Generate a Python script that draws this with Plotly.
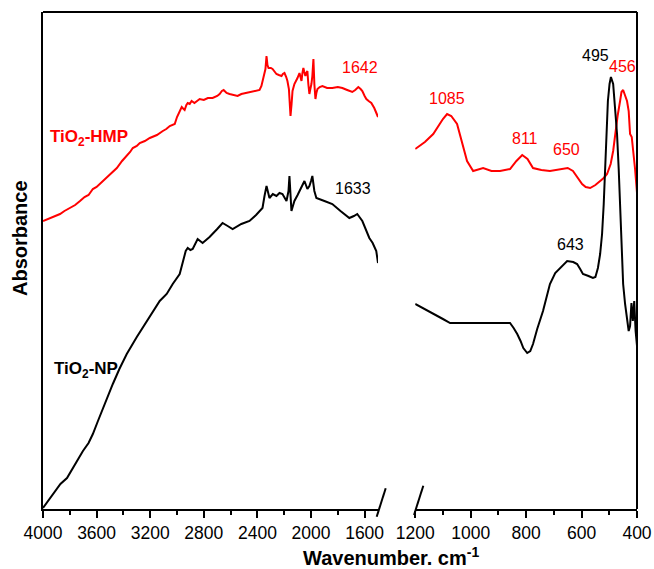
import plotly.graph_objects as go

# ---- FTIR spectra (absorbance, arbitrary units) ----
# High-wavenumber region, 4000-1500 cm-1
wn_hi_hmp = [4000, 3960, 3920, 3873, 3840, 3800, 3760, 3724, 3690, 3660, 3628, 3600, 3576, 3540,
             3501, 3470, 3449, 3410, 3375, 3350, 3330, 3300, 3278, 3240, 3203, 3150, 3106, 3080,
             3054, 3030, 3017, 3000, 2980, 2965, 2958, 2943, 2930, 2920, 2905, 2891, 2870, 2853,
             2831, 2800, 2770, 2734, 2700, 2682, 2665, 2652, 2630, 2608, 2580, 2548, 2520, 2481,
             2440, 2410, 2384, 2370, 2362, 2347, 2340, 2332, 2325, 2317, 2300, 2287, 2270, 2258,
             2240, 2220, 2210, 2198, 2185, 2176, 2165, 2153, 2145, 2138, 2124, 2110, 2101, 2086,
             2078, 2071, 2064, 2057, 2050, 2042, 2035, 2027, 2020, 2012, 2005, 1997, 1990, 1982,
             1975, 1967, 1960, 1952, 1935, 1915, 1880, 1841, 1800, 1766, 1730, 1692, 1670, 1647,
             1630, 1617, 1600, 1587, 1570, 1550, 1528, 1512, 1500]
abs_hi_hmp = [288, 290, 292, 295, 298, 301, 304, 308, 312, 314, 320, 322, 325, 330,
              335, 338, 341, 348, 353, 357, 361, 363, 366, 368, 371, 374, 378, 380,
              383, 384, 385, 392, 398, 402, 401, 399, 404, 406, 405, 408, 406, 408,
              410, 409, 411, 411, 413, 415, 418, 419, 416, 415, 414, 413, 415, 416,
              417, 418, 419, 423, 428, 436, 440, 453, 444, 441, 441, 440, 437, 435,
              434, 433, 435, 436, 432, 428, 420, 393, 405, 418, 425, 428, 431, 436,
              432, 428, 436, 441, 437, 433, 436, 438, 425, 415, 420, 425, 433, 450,
              425, 410, 416, 420, 422, 423, 421, 421, 422, 421, 419, 417, 419, 422,
              420, 418, 413, 410, 408, 406, 401, 396, 392]

wn_hi_np = [4000, 3955, 3911, 3870, 3821, 3760, 3702, 3660, 3628, 3590, 3553, 3515, 3479, 3430,
            3375, 3300, 3226, 3180, 3129, 3077, 3032, 2980, 2960, 2943, 2935, 2920, 2900, 2883,
            2846, 2809, 2757, 2700, 2660, 2622, 2585, 2520, 2459, 2410, 2362, 2347, 2332, 2310,
            2285, 2258, 2235, 2213, 2183, 2168, 2161, 2146, 2124, 2100, 2086, 2070, 2049, 2027,
            2012, 2000, 1990, 1975, 1960, 1900, 1841, 1780, 1714, 1680, 1655, 1617, 1590, 1565,
            1540, 1528, 1513, 1500]
abs_hi_np = [1, 9, 18, 25, 31, 45, 58, 66, 75, 88, 101, 113, 125, 140,
             155, 172, 188, 198, 208, 215, 225, 235, 245, 253, 258, 261, 259, 260,
             270, 266, 272, 280, 286, 283, 280, 285, 288, 294, 301, 313, 323, 311,
             315, 313, 316, 315, 308, 318, 333, 298, 308, 314, 318, 322, 328, 320,
             323, 328, 333, 318, 311, 308, 305, 298, 291, 293, 295, 288, 280, 271,
             266, 263, 258, 246]

# Low-wavenumber region, 1200-400 cm-1
wn_lo_hmp = [1200, 1165, 1135, 1100, 1085, 1070, 1049, 1030, 1013, 991, 970, 955, 925, 894,
             858, 835, 814, 795, 775, 745, 714, 690, 667, 650, 631, 615, 598, 585, 569, 550,
             533, 520, 508, 495, 486, 478, 470, 461, 456, 450, 443, 436, 430, 425, 419, 414,
             407, 400]
abs_lo_hmp = [360, 367, 375, 390, 395, 393, 385, 366, 348, 338, 340, 341, 338, 338,
              340, 348, 354, 350, 341, 339, 338, 339, 340, 341, 338, 332, 325, 322, 321, 324,
              328, 331, 335, 345, 358, 376, 393, 408, 417, 419, 414, 408, 398, 375, 372, 361,
              340, 316]

wn_lo_np = [1200, 1165, 1135, 1100, 1074, 1000, 930, 858, 845, 832, 820, 810, 796, 785, 775,
            760, 739, 725, 714, 695, 677, 652, 630, 616, 605, 595, 575, 559, 550, 541, 533,
            526, 520, 515, 510, 505, 499, 494, 486, 479, 472, 466, 461, 455, 450, 443, 436,
            430, 425, 420, 415, 410, 405, 400]
abs_lo_np = [205, 200, 195, 190, 186, 186, 186, 186, 181, 175, 168, 161, 156, 158, 165,
             180, 198, 213, 225, 236, 241, 248, 247, 245, 240, 235, 233, 231, 232, 241, 255,
             275, 305, 341, 378, 408, 425, 432, 425, 400, 375, 340, 308, 262, 225, 205, 191,
             178, 183, 206, 188, 208, 178, 163]

# Peak labels: (text, wavenumber, absorbance, colour, axis)
peak_text = ["1642", "1633", "1085", "811", "650", "643", "495", "456"]
peak_wn = [1633, 1689, 1087, 805, 656, 641, 551, 453]
peak_abs = [442, 321, 411, 371, 360, 265, 454, 443]
peak_col = ["#ff0000", "#000000", "#ff0000", "#ff0000", "#ff0000", "#000000", "#000000", "#ff0000"]
peak_axis = ["x", "x", "x2", "x2", "x2", "x2", "x2", "x2"]

RED = "#ff0000"
BLACK = "#000000"
FONT = "Liberation Sans, Arial, sans-serif"

fig = go.Figure()
fig.add_trace(go.Scatter(x=wn_hi_hmp, y=abs_hi_hmp, xaxis="x", yaxis="y", mode="lines",
                         line=dict(color=RED, width=2), showlegend=False))
fig.add_trace(go.Scatter(x=wn_hi_np, y=abs_hi_np, xaxis="x", yaxis="y", mode="lines",
                         line=dict(color=BLACK, width=2), showlegend=False))
fig.add_trace(go.Scatter(x=wn_lo_hmp, y=abs_lo_hmp, xaxis="x2", yaxis="y", mode="lines",
                         line=dict(color=RED, width=2), showlegend=False))
fig.add_trace(go.Scatter(x=wn_lo_np, y=abs_lo_np, xaxis="x2", yaxis="y", mode="lines",
                         line=dict(color=BLACK, width=2), showlegend=False))

axis_common = dict(
    showgrid=False, zeroline=False, showline=True, linecolor=BLACK, linewidth=2,
    ticks="outside", ticklen=7, tickwidth=2, tickcolor=BLACK, automargin=False,
    tickfont=dict(family=FONT, size=17.5, color=BLACK),
)

annotations = []
for t, xv, yv, c, ax in zip(peak_text, peak_wn, peak_abs, peak_col, peak_axis):
    annotations.append(dict(text=t, x=xv, y=yv, xref=ax, yref="y", showarrow=False,
                            font=dict(family=FONT, size=16, color=c),
                            xanchor="center", yanchor="middle"))

# sample names
annotations.append(dict(text="<b>TiO<sub>2</sub>-HMP</b>", x=(48 - 43) / 594, y=371, xref="paper", yref="y",
                        showarrow=False, xanchor="left", yanchor="middle",
                        font=dict(family=FONT, size=17, color=RED)))
annotations.append(dict(text="<b>TiO<sub>2</sub>-NP</b>", x=(52 - 43) / 594, y=139, xref="paper", yref="y",
                        showarrow=False, xanchor="left", yanchor="middle",
                        font=dict(family=FONT, size=17, color=BLACK)))

# axis titles
annotations.append(dict(text="<b>Wavenumber. cm<sup>-1</sup></b>", x=(391 - 43) / 594, y=(509 - 556) / 497,
                        xref="paper", yref="paper", showarrow=False, xanchor="center", yanchor="middle",
                        font=dict(family=FONT, size=20, color=BLACK)))
annotations.append(dict(text="<b>Absorbance</b>", x=(20 - 43) / 594, y=(509 - 238) / 497,
                        xref="paper", yref="paper", showarrow=False, xanchor="center", yanchor="middle",
                        textangle=-90, font=dict(family=FONT, size=20, color=BLACK)))

def px(xp):
    return (xp - 43) / 594

def py(yp):
    return (509 - yp) / 497

shapes = [
    # top and right frame
    dict(type="line", xref="paper", yref="paper", x0=0, x1=1, y0=1, y1=1, line=dict(color=BLACK, width=2)),
    dict(type="line", xref="paper", yref="paper", x0=1, x1=1, y0=0, y1=1, line=dict(color=BLACK, width=2)),
    # axis break marks
    dict(type="line", xref="paper", yref="paper", x0=px(376.7), x1=px(385.7), y0=py(516.7), y1=py(488.3),
         line=dict(color=BLACK, width=2)),
    dict(type="line", xref="paper", yref="paper", x0=px(414), x1=px(423.3), y0=py(515), y1=py(485.7),
         line=dict(color=BLACK, width=2)),
]

fig.update_layout(
    template="none",
    width=654, height=569,
    margin=dict(l=43, r=17, t=12, b=60, autoexpand=False),
    paper_bgcolor="white", plot_bgcolor="white",
    xaxis=dict(domain=[0, 0.564], range=[4000, 1500], tickmode="linear", tick0=0, dtick=400,
               minor=dict(ticks="outside", ticklen=4, tickwidth=2, tickcolor=BLACK, dtick=200, tick0=0,
                          showgrid=False),
               anchor="y", **axis_common),
    xaxis2=dict(domain=[0.6266, 1], range=[1200, 400], tickmode="linear", tick0=0, dtick=200,
                minor=dict(ticks="outside", ticklen=4, tickwidth=2, tickcolor=BLACK, dtick=100, tick0=0,
                           showgrid=False),
                anchor="y", **axis_common),
    yaxis=dict(range=[0, 497], showgrid=False, zeroline=False, showline=True, linecolor=BLACK,
               linewidth=2, showticklabels=False, ticks="", automargin=False),
    annotations=annotations,
    shapes=shapes,
)

fig.write_html("out.html")
